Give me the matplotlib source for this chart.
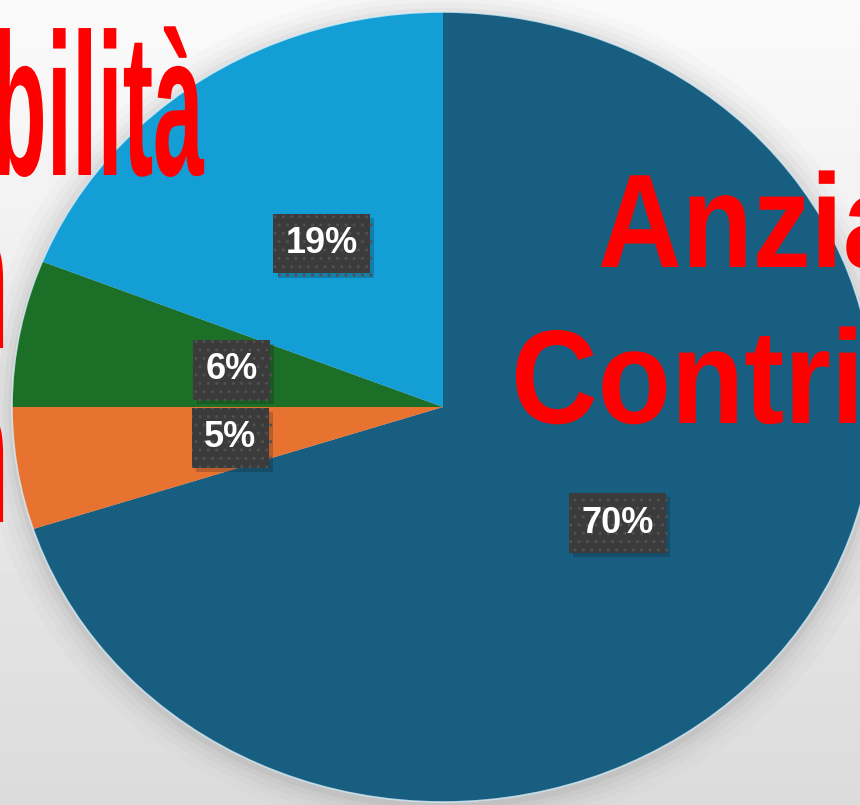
import numpy as np
import matplotlib
matplotlib.use("Agg")
import matplotlib.pyplot as plt
import matplotlib.patheffects as pe
from matplotlib.patches import Ellipse
from matplotlib.transforms import Affine2D

# data
shares = [70, 5, 6, 19]
colors = ['#175e81', '#e87331', '#1c6f27', '#149ed6']

# red overlay text fragments (cropped banner words)
red_left = ['bilità', 'n', 'n']
red_right = ['Anzia', 'Contri']

W, H = 860, 805


class Squeeze(pe.AbstractPathEffect):
    # draws the glyphs narrower, anchored at the line origin
    def __init__(self, sx):
        super().__init__()
        self.sx = sx

    def draw_path(self, renderer, gc, tpath, affine, rgbFace=None):
        renderer.draw_path(gc, tpath, Affine2D().scale(self.sx, 1) + affine, rgbFace)


def fx(x):
    return x / W


def fy(y):
    return 1 - y / H


fig = plt.figure(figsize=(W / 100, H / 100), dpi=100)

# background gradient
bg = fig.add_axes([0, 0, 1, 1], zorder=-1)
grad = np.linspace(0.98, 0.86, 256).reshape(-1, 1)
bg.imshow(grad, aspect='auto', cmap='gray', vmin=0, vmax=1, extent=[0, 1, 0, 1])
bg.axis('off')

ax = fig.add_axes([0, 0, 1, 1])
ax.patch.set_alpha(0)

# soft shadow around the pie
for r, a in [(1.07, 0.03), (1.05, 0.04), (1.035, 0.05), (1.02, 0.07), (1.008, 0.1)]:
    ax.add_patch(Ellipse((0.0, -0.01), 2 * r, 2 * r, color='#808080', alpha=a, lw=0, zorder=0))

wedges, _, autotexts = ax.pie(shares, colors=colors, startangle=90, counterclock=False,
                              autopct=lambda p: f'{p:.0f}%', pctdistance=0.5,
                              wedgeprops=dict(linewidth=0),
                              textprops=dict(color='white', fontsize=26, fontweight='bold',
                                             family='Liberation Sans'))
for w in wedges:
    w.set_zorder(2)
ax.add_patch(Ellipse((0, 0), 2, 2, fill=False, ec='#d8ecf5', lw=1.2, alpha=0.8, zorder=3))

for t in autotexts:
    t.set_zorder(5)
    t.set_bbox(dict(boxstyle='square,pad=0.34', fc='#3b3b3b', ec='#505050', lw=0, hatch='..'))
    t.get_bbox_patch().set_path_effects([pe.withSimplePatchShadow(offset=(3, -3), alpha=0.22)])

cx, cy = 443, 407
rx, ry = 431, 395
ax.set_aspect('auto')
ax.set_xlim(-cx / rx, (W - cx) / rx)
ax.set_ylim(-(H - cy) / ry, cy / ry)
ax.axis('off')

# big red words, condensed
left_pos = [(-9, 175), (-47, 348), (-47, 522)]
for s, (x, y) in zip(red_left, left_pos):
    fig.text(fx(x), fy(y), s, color='#ff0000', fontsize=146, fontweight='bold',
             family='Liberation Sans', ha='left', va='baseline',
             path_effects=[Squeeze(0.45)])

right_pos = [(598, 267, 0.87), (511, 423, 0.9)]
for s, (x, y, sx) in zip(red_right, right_pos):
    fig.text(fx(x), fy(y), s, color='#ff0000', fontsize=96, fontweight='bold',
             family='Liberation Sans', ha='left', va='baseline',
             path_effects=[Squeeze(sx)])

fig.savefig('out.png', dpi=100)
